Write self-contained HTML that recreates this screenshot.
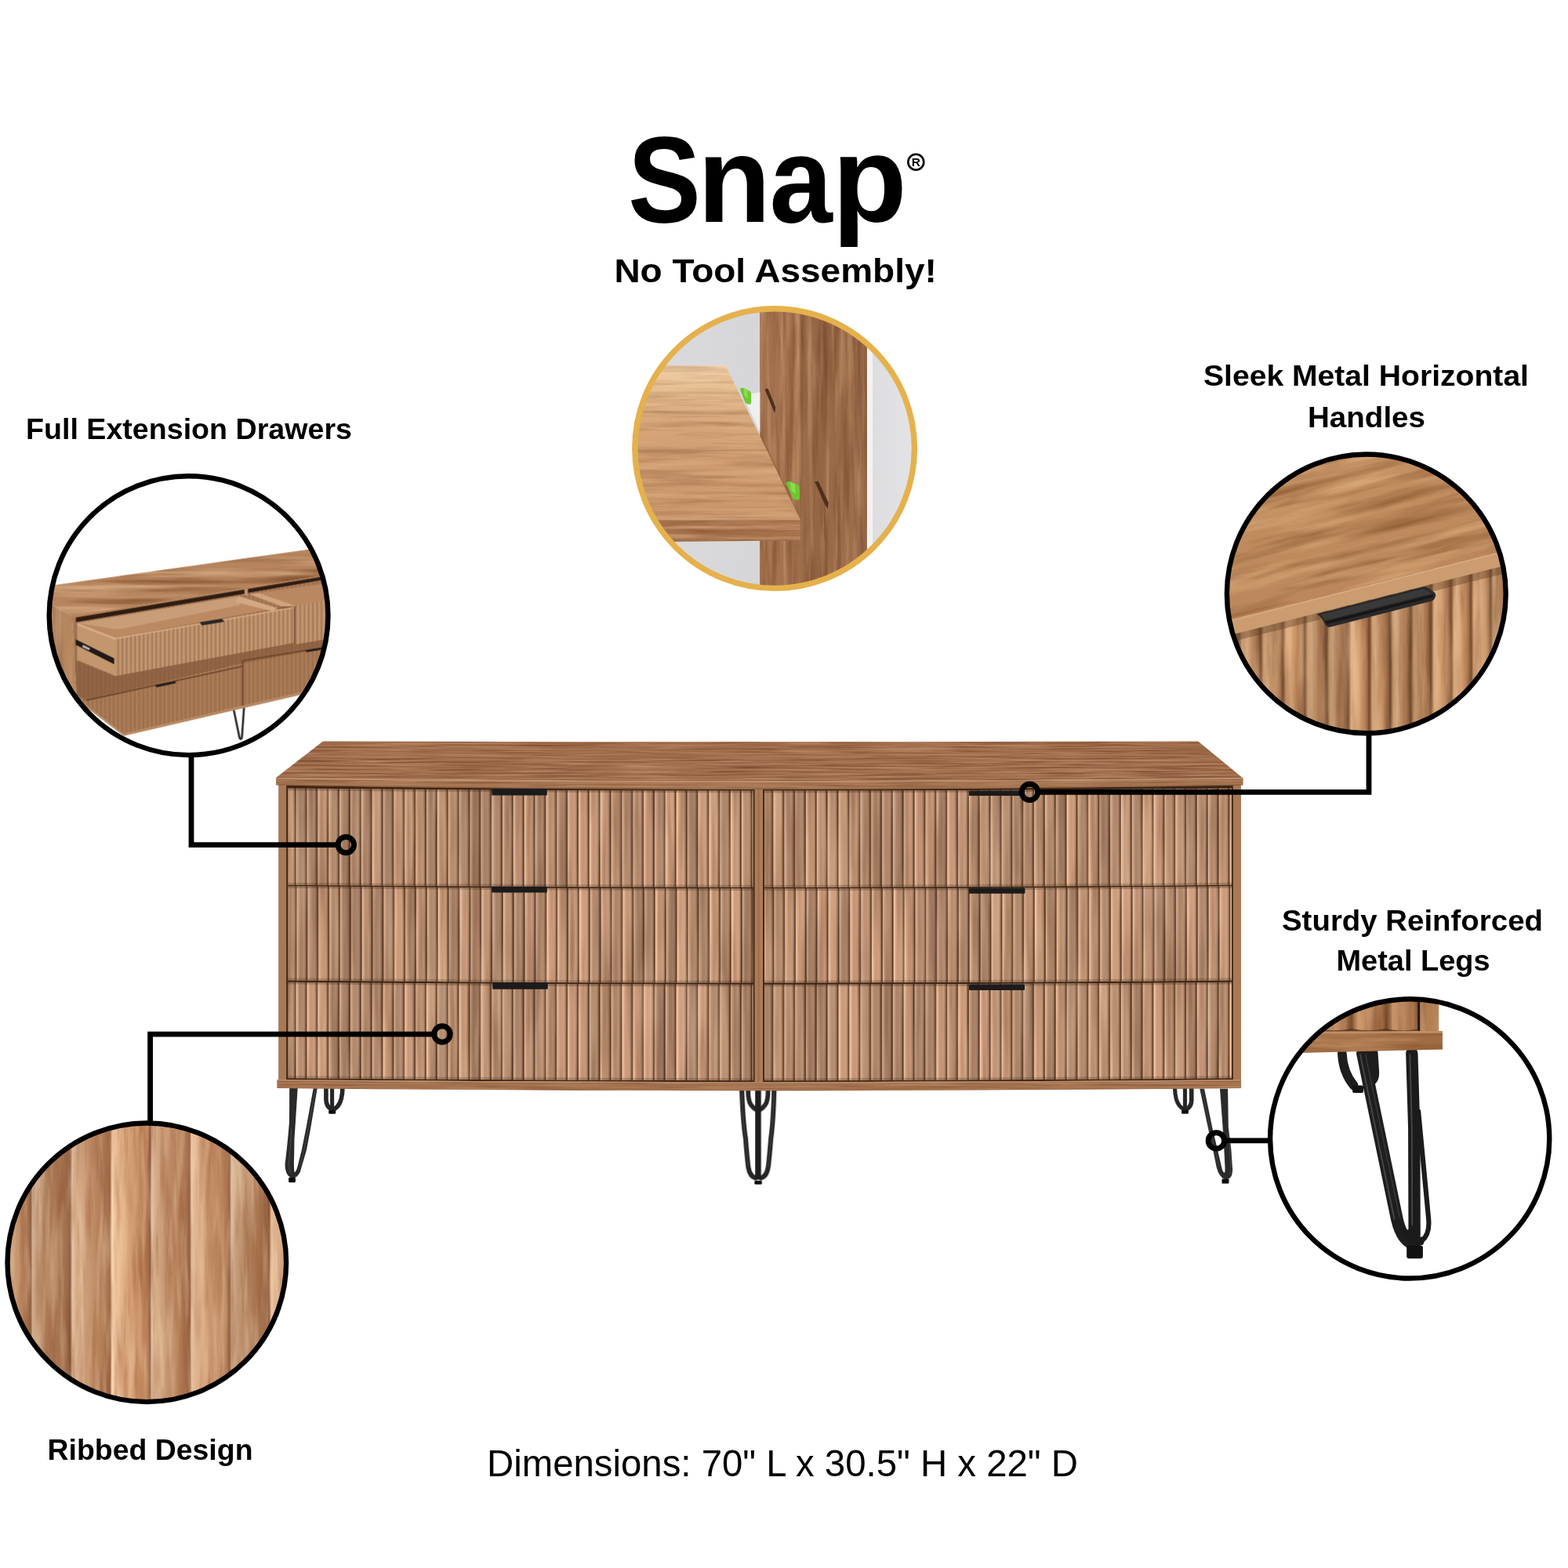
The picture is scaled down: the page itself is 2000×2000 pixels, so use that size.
<!DOCTYPE html>
<html lang="en">
<head>
<meta charset="utf-8">
<title>Snap - No Tool Assembly Dresser</title>
<style>
html,body{margin:0;padding:0;background:#ffffff}
body{width:2000px;height:2000px;overflow:hidden;position:relative}
svg{display:block;position:absolute;left:0;top:0}
text{font-family:"Liberation Sans",sans-serif;fill:#000}
.b{font-weight:bold}
</style>
</head>
<body>
<svg width="2000" height="2000" viewBox="0 0 2000 2000">
<defs>
<linearGradient id="rb0" x1="0" y1="0" x2="1" y2="0"><stop offset="0.00" stop-color="#593c28"/><stop offset="0.05" stop-color="#684731"/><stop offset="0.13" stop-color="#cea990"/><stop offset="0.26" stop-color="#b89276"/><stop offset="0.42" stop-color="#a77f64"/><stop offset="0.60" stop-color="#a98267"/><stop offset="0.74" stop-color="#ad876c"/><stop offset="0.86" stop-color="#9b745b"/><stop offset="0.94" stop-color="#7a5742"/><stop offset="1.00" stop-color="#593c28"/></linearGradient>
<linearGradient id="rb1" x1="0" y1="0" x2="1" y2="0"><stop offset="0.00" stop-color="#5c3e29"/><stop offset="0.05" stop-color="#6b4933"/><stop offset="0.13" stop-color="#d4af95"/><stop offset="0.26" stop-color="#be967a"/><stop offset="0.42" stop-color="#ad8467"/><stop offset="0.60" stop-color="#af866a"/><stop offset="0.74" stop-color="#b38b70"/><stop offset="0.86" stop-color="#a0785e"/><stop offset="0.94" stop-color="#7e5a44"/><stop offset="1.00" stop-color="#5c3e29"/></linearGradient>
<linearGradient id="rb2" x1="0" y1="0" x2="1" y2="0"><stop offset="0.00" stop-color="#5f402b"/><stop offset="0.05" stop-color="#6f4c34"/><stop offset="0.13" stop-color="#dbb499"/><stop offset="0.26" stop-color="#c49b7e"/><stop offset="0.42" stop-color="#b2886b"/><stop offset="0.60" stop-color="#b48b6e"/><stop offset="0.74" stop-color="#b89073"/><stop offset="0.86" stop-color="#a57c61"/><stop offset="0.94" stop-color="#825d46"/><stop offset="1.00" stop-color="#5f402b"/></linearGradient>
<linearGradient id="rb3" x1="0" y1="0" x2="1" y2="0"><stop offset="0.00" stop-color="#62422c"/><stop offset="0.05" stop-color="#724e36"/><stop offset="0.13" stop-color="#e2ba9e"/><stop offset="0.26" stop-color="#caa082"/><stop offset="0.42" stop-color="#b88c6e"/><stop offset="0.60" stop-color="#ba8f71"/><stop offset="0.74" stop-color="#be9477"/><stop offset="0.86" stop-color="#aa8064"/><stop offset="0.94" stop-color="#866048"/><stop offset="1.00" stop-color="#62422c"/></linearGradient>
<linearGradient id="rb4" x1="0" y1="0" x2="1" y2="0"><stop offset="0.00" stop-color="#65442d"/><stop offset="0.05" stop-color="#755038"/><stop offset="0.13" stop-color="#e9c0a3"/><stop offset="0.26" stop-color="#d0a586"/><stop offset="0.42" stop-color="#be9071"/><stop offset="0.60" stop-color="#c09374"/><stop offset="0.74" stop-color="#c4987b"/><stop offset="0.86" stop-color="#af8467"/><stop offset="0.94" stop-color="#8a634a"/><stop offset="1.00" stop-color="#65442d"/></linearGradient>
<linearGradient id="rb5" x1="0" y1="0" x2="1" y2="0"><stop offset="0.00" stop-color="#68462f"/><stop offset="0.05" stop-color="#795339"/><stop offset="0.13" stop-color="#f0c5a7"/><stop offset="0.26" stop-color="#d6aa8a"/><stop offset="0.42" stop-color="#c39475"/><stop offset="0.60" stop-color="#c59878"/><stop offset="0.74" stop-color="#c99d7e"/><stop offset="0.86" stop-color="#b4886a"/><stop offset="0.94" stop-color="#8e664c"/><stop offset="1.00" stop-color="#68462f"/></linearGradient>
<linearGradient id="rb6" x1="0" y1="0" x2="1" y2="0"><stop offset="0.00" stop-color="#6b4830"/><stop offset="0.05" stop-color="#7c553b"/><stop offset="0.13" stop-color="#f6cbac"/><stop offset="0.26" stop-color="#dcae8e"/><stop offset="0.42" stop-color="#c99978"/><stop offset="0.60" stop-color="#cb9c7b"/><stop offset="0.74" stop-color="#cfa182"/><stop offset="0.86" stop-color="#b98c6d"/><stop offset="0.94" stop-color="#92694e"/><stop offset="1.00" stop-color="#6b4830"/></linearGradient>
<clipPath id="cd00"><path d="M367.3 1005.56 Q664.0 1008.56 960.7 1008.60 L960.7 1131.70 Q664.0 1131.66 367.3 1128.66 Z"/></clipPath>
<clipPath id="cd01"><path d="M367.3 1130.26 Q664.0 1133.26 960.7 1133.30 L960.7 1253.50 Q664.0 1253.46 367.3 1250.46 Z"/></clipPath>
<clipPath id="cd02"><path d="M367.3 1252.66 Q664.0 1255.66 960.7 1255.70 L960.7 1378.20 Q664.0 1378.16 367.3 1375.16 Z"/></clipPath>
<clipPath id="cd10"><path d="M975.0 1008.60 Q1273.0 1008.57 1571.0 1005.55 L1571.0 1128.65 Q1273.0 1131.67 975.0 1131.70 Z"/></clipPath>
<clipPath id="cd11"><path d="M975.0 1133.30 Q1273.0 1133.27 1571.0 1130.25 L1571.0 1250.45 Q1273.0 1253.47 975.0 1253.50 Z"/></clipPath>
<clipPath id="cd12"><path d="M975.0 1255.70 Q1273.0 1255.67 1571.0 1252.65 L1571.0 1375.15 Q1273.0 1378.17 975.0 1378.20 Z"/></clipPath>
<linearGradient id="rh0" x1="0" y1="0" x2="1" y2="0"><stop offset="0.000" stop-color="#623e26"/><stop offset="0.050" stop-color="#785135"/><stop offset="0.160" stop-color="#c2966f"/><stop offset="0.320" stop-color="#c9a078"/><stop offset="0.550" stop-color="#b88962"/><stop offset="0.800" stop-color="#a2734f"/><stop offset="0.940" stop-color="#845a3c"/><stop offset="1.000" stop-color="#623e26"/></linearGradient>
<linearGradient id="rh1" x1="0" y1="0" x2="1" y2="0"><stop offset="0.000" stop-color="#664127"/><stop offset="0.050" stop-color="#7d5437"/><stop offset="0.160" stop-color="#ca9d74"/><stop offset="0.320" stop-color="#d2a77d"/><stop offset="0.550" stop-color="#c08f66"/><stop offset="0.800" stop-color="#a97852"/><stop offset="0.940" stop-color="#895e3f"/><stop offset="1.000" stop-color="#664127"/></linearGradient>
<linearGradient id="rh2" x1="0" y1="0" x2="1" y2="0"><stop offset="0.000" stop-color="#6a4329"/><stop offset="0.050" stop-color="#835839"/><stop offset="0.160" stop-color="#d2a378"/><stop offset="0.320" stop-color="#daad83"/><stop offset="0.550" stop-color="#c8956a"/><stop offset="0.800" stop-color="#af7c56"/><stop offset="0.940" stop-color="#8f6241"/><stop offset="1.000" stop-color="#6a4329"/></linearGradient>
<linearGradient id="rh3" x1="0" y1="0" x2="1" y2="0"><stop offset="0.000" stop-color="#6e462a"/><stop offset="0.050" stop-color="#885b3b"/><stop offset="0.160" stop-color="#daaa7d"/><stop offset="0.320" stop-color="#e3b488"/><stop offset="0.550" stop-color="#d09b6e"/><stop offset="0.800" stop-color="#b68159"/><stop offset="0.940" stop-color="#946644"/><stop offset="1.000" stop-color="#6e462a"/></linearGradient>
<linearGradient id="rr0" x1="0" y1="0" x2="1" y2="0"><stop offset="0.000" stop-color="#764b32"/><stop offset="0.020" stop-color="#8a5c40"/><stop offset="0.060" stop-color="#d7b69b"/><stop offset="0.180" stop-color="#caa484"/><stop offset="0.420" stop-color="#b88a67"/><stop offset="0.720" stop-color="#ab7956"/><stop offset="0.930" stop-color="#996746"/><stop offset="0.985" stop-color="#8a5a3d"/><stop offset="1.000" stop-color="#764b32"/></linearGradient>
<linearGradient id="rr1" x1="0" y1="0" x2="1" y2="0"><stop offset="0.000" stop-color="#7d5035"/><stop offset="0.020" stop-color="#936245"/><stop offset="0.060" stop-color="#e5c2a5"/><stop offset="0.180" stop-color="#d8ae8d"/><stop offset="0.420" stop-color="#c4936e"/><stop offset="0.720" stop-color="#b6815c"/><stop offset="0.930" stop-color="#a36e4a"/><stop offset="0.985" stop-color="#936041"/><stop offset="1.000" stop-color="#7d5035"/></linearGradient>
<linearGradient id="rr2" x1="0" y1="0" x2="1" y2="0"><stop offset="0.000" stop-color="#845438"/><stop offset="0.020" stop-color="#9a6748"/><stop offset="0.060" stop-color="#f1ccad"/><stop offset="0.180" stop-color="#e3b794"/><stop offset="0.420" stop-color="#ce9a73"/><stop offset="0.720" stop-color="#c08861"/><stop offset="0.930" stop-color="#ab734e"/><stop offset="0.985" stop-color="#9a6544"/><stop offset="1.000" stop-color="#845438"/></linearGradient>
<linearGradient id="rr3" x1="0" y1="0" x2="1" y2="0"><stop offset="0.000" stop-color="#8c593b"/><stop offset="0.020" stop-color="#a46d4c"/><stop offset="0.060" stop-color="#ffd8b7"/><stop offset="0.180" stop-color="#f0c29d"/><stop offset="0.420" stop-color="#daa47a"/><stop offset="0.720" stop-color="#cb9066"/><stop offset="0.930" stop-color="#b57a53"/><stop offset="0.985" stop-color="#a46b48"/><stop offset="1.000" stop-color="#8c593b"/></linearGradient>
<linearGradient id="rl0" x1="0" y1="0" x2="1" y2="0"><stop offset="0.000" stop-color="#6c452a"/><stop offset="0.050" stop-color="#865a3a"/><stop offset="0.200" stop-color="#be8e66"/><stop offset="0.500" stop-color="#b4815a"/><stop offset="0.850" stop-color="#a3714d"/><stop offset="0.960" stop-color="#865a3a"/><stop offset="1.000" stop-color="#6c452a"/></linearGradient>
<linearGradient id="rl1" x1="0" y1="0" x2="1" y2="0"><stop offset="0.000" stop-color="#70482c"/><stop offset="0.050" stop-color="#8c5e3c"/><stop offset="0.200" stop-color="#c6946a"/><stop offset="0.500" stop-color="#bc865e"/><stop offset="0.850" stop-color="#aa7650"/><stop offset="0.960" stop-color="#8c5e3c"/><stop offset="1.000" stop-color="#70482c"/></linearGradient>
<linearGradient id="rl2" x1="0" y1="0" x2="1" y2="0"><stop offset="0.000" stop-color="#744b2e"/><stop offset="0.050" stop-color="#92623e"/><stop offset="0.200" stop-color="#ce9a6e"/><stop offset="0.500" stop-color="#c48b62"/><stop offset="0.850" stop-color="#b17b53"/><stop offset="0.960" stop-color="#92623e"/><stop offset="1.000" stop-color="#744b2e"/></linearGradient>
<filter id="grainVc5" x="0" y="0" width="100%" height="100%" color-interpolation-filters="sRGB">
<feTurbulence type="fractalNoise" baseFrequency="0.11 0.009" numOctaves="3" seed="31" result="n"/>
<feColorMatrix in="n" type="matrix" values="0 0 0 0 0.55  0 0 0 0 0.32  0 0 0 0 0.18  2.6 0 0 0 -1.1" result="d"/>
<feColorMatrix in="n" type="matrix" values="0 0 0 0 0.97  0 0 0 0 0.86  0 0 0 0 0.72  0 2.6 0 0 -1.15" result="l"/>
<feMerge result="m"><feMergeNode in="d"/><feMergeNode in="l"/></feMerge>
<feComposite in="m" in2="SourceGraphic" operator="in"/>
</filter>
<filter id="grainVc5b" x="0" y="0" width="100%" height="100%" color-interpolation-filters="sRGB">
<feTurbulence type="fractalNoise" baseFrequency="0.022 0.004" numOctaves="2" seed="77" result="n"/>
<feColorMatrix in="n" type="matrix" values="0 0 0 0 0.60  0 0 0 0 0.36  0 0 0 0 0.20  2.4 0 0 0 -1.0" result="d"/>
<feColorMatrix in="n" type="matrix" values="0 0 0 0 0.96  0 0 0 0 0.84  0 0 0 0 0.66  0 2.4 0 0 -1.1" result="l"/>
<feMerge result="m"><feMergeNode in="d"/><feMergeNode in="l"/></feMerge>
<feComposite in="m" in2="SourceGraphic" operator="in"/>
</filter>
<filter id="soft" x="-2%" y="-2%" width="104%" height="104%" color-interpolation-filters="sRGB"><feGaussianBlur stdDeviation="0.65"/></filter>
<filter id="soft2" x="-2%" y="-2%" width="104%" height="104%" color-interpolation-filters="sRGB"><feGaussianBlur stdDeviation="0.8"/></filter>
<!-- wood grain filters -->
<filter id="grainV" x="0" y="0" width="100%" height="100%" color-interpolation-filters="sRGB">
<feTurbulence type="fractalNoise" baseFrequency="0.075 0.005" numOctaves="3" seed="7" result="n"/>
<feColorMatrix in="n" type="matrix" values="0 0 0 0 0.30  0 0 0 0 0.17  0 0 0 0 0.09  2.4 0 0 0 -1.05" result="d"/>
<feColorMatrix in="n" type="matrix" values="0 0 0 0 0.96  0 0 0 0 0.82  0 0 0 0 0.70  0 2.4 0 0 -1.2" result="l"/>
<feMerge result="m"><feMergeNode in="d"/><feMergeNode in="l"/></feMerge>
<feComposite in="m" in2="SourceGraphic" operator="in"/>
</filter>
<filter id="grainH" x="0" y="0" width="100%" height="100%" color-interpolation-filters="sRGB">
<feTurbulence type="fractalNoise" baseFrequency="0.009 0.42" numOctaves="3" seed="11" result="n"/>
<feColorMatrix in="n" type="matrix" values="0 0 0 0 0.45  0 0 0 0 0.27  0 0 0 0 0.17  1.8 0 0 0 -0.72" result="d"/>
<feColorMatrix in="n" type="matrix" values="0 0 0 0 0.76  0 0 0 0 0.58  0 0 0 0 0.45  0 1.8 0 0 -0.75" result="l"/>
<feMerge result="m"><feMergeNode in="d"/><feMergeNode in="l"/></feMerge>
<feComposite in="m" in2="SourceGraphic" operator="in"/>
</filter>
<filter id="grainVbig" x="0" y="0" width="100%" height="100%" color-interpolation-filters="sRGB">
<feTurbulence type="fractalNoise" baseFrequency="0.035 0.0028" numOctaves="4" seed="5" result="n"/>
<feColorMatrix in="n" type="matrix" values="0 0 0 0 0.42  0 0 0 0 0.24  0 0 0 0 0.12  2.4 0 0 0 -1.05" result="d"/>
<feColorMatrix in="n" type="matrix" values="0 0 0 0 0.97  0 0 0 0 0.84  0 0 0 0 0.68  0 2.4 0 0 -1.1" result="l"/>
<feMerge result="m"><feMergeNode in="d"/><feMergeNode in="l"/></feMerge>
<feComposite in="m" in2="SourceGraphic" operator="in"/>
</filter>
<filter id="grainHbig" x="0" y="0" width="100%" height="100%" color-interpolation-filters="sRGB">
<feTurbulence type="fractalNoise" baseFrequency="0.003 0.05" numOctaves="4" seed="21" result="n"/>
<feColorMatrix in="n" type="matrix" values="0 0 0 0 0.40  0 0 0 0 0.22  0 0 0 0 0.10  2.2 0 0 0 -0.95" result="d"/>
<feColorMatrix in="n" type="matrix" values="0 0 0 0 0.96  0 0 0 0 0.80  0 0 0 0 0.62  0 2.2 0 0 -1.05" result="l"/>
<feMerge result="m"><feMergeNode in="d"/><feMergeNode in="l"/></feMerge>
<feComposite in="m" in2="SourceGraphic" operator="in"/>
</filter>
<!-- rib shading -->
<linearGradient id="ribG" x1="0" y1="0" x2="1" y2="0">
<stop offset="0" stop-color="#8a5f45"/>
<stop offset="0.09" stop-color="#8f6348"/>
<stop offset="0.16" stop-color="#c79d7b"/>
<stop offset="0.36" stop-color="#bd8e6a"/>
<stop offset="0.70" stop-color="#b08260"/>
<stop offset="0.92" stop-color="#9d7052"/>
<stop offset="1" stop-color="#8a5f45"/>
</linearGradient>
<pattern id="ribs" x="362.4" y="0" width="13.8" height="400" patternUnits="userSpaceOnUse">
<rect x="0" y="0" width="13.8" height="400" fill="url(#ribG)"/>
</pattern>
<pattern id="ribsR" x="969.8" y="0" width="13.8" height="400" patternUnits="userSpaceOnUse">
<rect x="0" y="0" width="13.8" height="400" fill="url(#ribG)"/>
</pattern>
<linearGradient id="drawerShade" x1="0" y1="0" x2="0" y2="1">
<stop offset="0" stop-color="#3a2414" stop-opacity="0.30"/>
<stop offset="0.05" stop-color="#3a2414" stop-opacity="0.04"/>
<stop offset="0.93" stop-color="#3a2414" stop-opacity="0"/>
<stop offset="1" stop-color="#3a2414" stop-opacity="0.28"/>
</linearGradient>
<linearGradient id="rodG" x1="0" y1="0" x2="1" y2="0">
<stop offset="0" stop-color="#1d1d1d"/>
<stop offset="0.45" stop-color="#4a4a4a"/>
<stop offset="1" stop-color="#202020"/>
</linearGradient>
<linearGradient id="ribGs" x1="0" y1="0" x2="1" y2="0">
<stop offset="0" stop-color="#6e4830" stop-opacity="0.75"/>
<stop offset="0.22" stop-color="#e0b892" stop-opacity="0.45"/>
<stop offset="0.6" stop-color="#b88a62" stop-opacity="0.1"/>
<stop offset="1" stop-color="#6e4830" stop-opacity="0.6"/>
</linearGradient>
<pattern id="ribsC1" x="0" y="0" width="5.4" height="400" patternUnits="userSpaceOnUse">
<rect x="0" y="0" width="5.4" height="400" fill="url(#ribGs)"/>
</pattern>
<filter id="grainHc1" x="0" y="0" width="100%" height="100%" color-interpolation-filters="sRGB">
<feTurbulence type="fractalNoise" baseFrequency="0.006 0.11" numOctaves="3" seed="4" result="n"/>
<feColorMatrix in="n" type="matrix" values="0 0 0 0 0.40  0 0 0 0 0.22  0 0 0 0 0.10  2.2 0 0 0 -0.95" result="d"/>
<feColorMatrix in="n" type="matrix" values="0 0 0 0 0.96  0 0 0 0 0.82  0 0 0 0 0.66  0 2.2 0 0 -1.05" result="l"/>
<feMerge result="m"><feMergeNode in="d"/><feMergeNode in="l"/></feMerge>
<feComposite in="m" in2="SourceGraphic" operator="in"/>
</filter>
<linearGradient id="snapBg" x1="0" y1="0" x2="1" y2="0">
<stop offset="0" stop-color="#dcdcde"/>
<stop offset="0.45" stop-color="#d6d6d9"/>
<stop offset="0.8" stop-color="#dddde0"/>
<stop offset="1" stop-color="#e6e6e8"/>
</linearGradient>
<linearGradient id="postG" x1="0" y1="0" x2="1" y2="0">
<stop offset="0" stop-color="#a97753"/>
<stop offset="0.35" stop-color="#a06f4b"/>
<stop offset="0.55" stop-color="#946544"/>
<stop offset="0.8" stop-color="#a06f4c"/>
<stop offset="1" stop-color="#96664a"/>
</linearGradient>
<linearGradient id="shelfG" x1="0" y1="0" x2="0" y2="1">
<stop offset="0" stop-color="#f2d2aa"/>
<stop offset="0.12" stop-color="#e9c296"/>
<stop offset="0.34" stop-color="#d8a97d"/>
<stop offset="0.6" stop-color="#cf9d72"/>
<stop offset="1" stop-color="#c9966b"/>
</linearGradient>
<linearGradient id="shelfFrontG" x1="0" y1="0" x2="0" y2="1">
<stop offset="0" stop-color="#b07c55"/>
<stop offset="1" stop-color="#a06e49"/>
</linearGradient>
<filter id="grainVsnap" x="0" y="0" width="100%" height="100%" color-interpolation-filters="sRGB">
<feTurbulence type="fractalNoise" baseFrequency="0.024 0.0014" numOctaves="4" seed="9" result="n"/>
<feColorMatrix in="n" type="matrix" values="0 0 0 0 0.36  0 0 0 0 0.20  0 0 0 0 0.10  2.4 0 0 0 -1.0" result="d"/>
<feColorMatrix in="n" type="matrix" values="0 0 0 0 0.90  0 0 0 0 0.72  0 0 0 0 0.55  0 2.4 0 0 -1.15" result="l"/>
<feMerge result="m"><feMergeNode in="d"/><feMergeNode in="l"/></feMerge>
<feComposite in="m" in2="SourceGraphic" operator="in"/>
</filter>
<filter id="grainHsnap" x="0" y="0" width="100%" height="100%" color-interpolation-filters="sRGB">
<feTurbulence type="fractalNoise" baseFrequency="0.0016 0.03" numOctaves="4" seed="13" result="n"/>
<feColorMatrix in="n" type="matrix" values="0 0 0 0 0.45  0 0 0 0 0.26  0 0 0 0 0.12  2.4 0 0 0 -1.0" result="d"/>
<feColorMatrix in="n" type="matrix" values="0 0 0 0 0.96  0 0 0 0 0.80  0 0 0 0 0.62  0 2.4 0 0 -1.1" result="l"/>
<feMerge result="m"><feMergeNode in="d"/><feMergeNode in="l"/></feMerge>
<feComposite in="m" in2="SourceGraphic" operator="in"/>
</filter>
<linearGradient id="ribG3" x1="0" y1="0" x2="1" y2="0">
<stop offset="0" stop-color="#8a5d3f"/>
<stop offset="0.06" stop-color="#96684a"/>
<stop offset="0.2" stop-color="#cfa47d"/>
<stop offset="0.45" stop-color="#c39469"/>
<stop offset="0.75" stop-color="#b38258"/>
<stop offset="0.94" stop-color="#9b6d4a"/>
<stop offset="1" stop-color="#8a5d3f"/>
</linearGradient>
<pattern id="ribsC3" x="55" y="0" width="129" height="2000" patternUnits="userSpaceOnUse">
<rect x="0" y="0" width="129" height="2000" fill="url(#ribG3)"/>
</pattern>
<linearGradient id="topC3" x1="0" y1="0" x2="0.3" y2="1">
<stop offset="0" stop-color="#c8976a"/>
<stop offset="0.5" stop-color="#c08c5f"/>
<stop offset="1" stop-color="#b9855a"/>
</linearGradient>
<filter id="grainVc3" x="0" y="0" width="100%" height="100%" color-interpolation-filters="sRGB">
<feTurbulence type="fractalNoise" baseFrequency="0.012 0.0011" numOctaves="4" seed="17" result="n"/>
<feColorMatrix in="n" type="matrix" values="0 0 0 0 0.40  0 0 0 0 0.22  0 0 0 0 0.10  2.4 0 0 0 -1.05" result="d"/>
<feColorMatrix in="n" type="matrix" values="0 0 0 0 0.95  0 0 0 0 0.80  0 0 0 0 0.62  0 2.4 0 0 -1.15" result="l"/>
<feMerge result="m"><feMergeNode in="d"/><feMergeNode in="l"/></feMerge>
<feComposite in="m" in2="SourceGraphic" operator="in"/>
</filter>
<filter id="grainHc3" x="0" y="0" width="100%" height="100%" color-interpolation-filters="sRGB">
<feTurbulence type="fractalNoise" baseFrequency="0.0011 0.012" numOctaves="4" seed="23" result="n"/>
<feColorMatrix in="n" type="matrix" values="0 0 0 0 0.45  0 0 0 0 0.25  0 0 0 0 0.10  2.4 0 0 0 -1.05" result="d"/>
<feColorMatrix in="n" type="matrix" values="0 0 0 0 0.96  0 0 0 0 0.80  0 0 0 0 0.60  0 2.4 0 0 -1.15" result="l"/>
<feMerge result="m"><feMergeNode in="d"/><feMergeNode in="l"/></feMerge>
<feComposite in="m" in2="SourceGraphic" operator="in"/>
</filter>
<clipPath id="clipC1"><circle cx="240.6" cy="785.2" r="178"/></clipPath>
<clipPath id="clipC2"><circle cx="988.1" cy="572.1" r="178"/></clipPath>
<clipPath id="clipC3"><circle cx="1742.8" cy="757.4" r="178"/></clipPath>
<clipPath id="clipC4"><circle cx="1798.2" cy="1452.4" r="178"/></clipPath>
<clipPath id="clipC5"><circle cx="187.3" cy="1610.3" r="178"/></clipPath>
</defs>
<g id="dresser" filter="url(#soft)">
<!-- left legs -->
<g transform="translate(350 1380) scale(0.072464)">
<g fill="none" stroke="#262626" stroke-linecap="round" stroke-linejoin="round">
<path d="M910 100 L910 320 Q916 440 1005 482" stroke-width="78"/>
<path d="M1016 100 L1016 480" stroke-width="70"/>
<path d="M1200 100 Q1196 330 1120 420 Q1090 458 1040 486" stroke-width="78"/>
</g>
<rect x="955" y="496" width="126" height="66" rx="16" fill="#0d0d0d"/>
<path d="M265 100 L262 700 Q240 1000 195 1380 Q172 1500 212 1600 Q258 1692 322 1694 Q402 1690 452 1588 L565 1200 L640 800 L757 100 L688 100 L560 800 L480 1200 L410 1480 Q380 1592 352 1592 Q338 1500 347 1300 L352 1000 L372 700 L410 100 Z" fill="#2a2a2a"/>
<path d="M300 820 Q285 1100 258 1400 Q248 1520 290 1600" fill="none" stroke="#555" stroke-width="14" opacity="0.7"/>
<path d="M720 130 L600 800 L520 1200 L450 1480" fill="none" stroke="#555" stroke-width="12" opacity="0.7"/>
<rect x="250" y="1684" width="122" height="86" rx="16" fill="#0d0d0d"/>
</g>
<!-- right legs -->
<g transform="translate(1490 1380) scale(0.072464)">
<g fill="none" stroke="#262626" stroke-linecap="round" stroke-linejoin="round">
<path d="M118 120 Q124 330 200 420 Q232 458 284 486" stroke-width="70"/>
<path d="M296 120 L296 480" stroke-width="70"/>
<path d="M410 120 L410 330 Q404 440 320 482" stroke-width="78"/>
</g>
<rect x="235" y="496" width="122" height="66" rx="16" fill="#0d0d0d"/>
<path d="M555 120 L700 800 L790 1200 L850 1500 Q900 1690 1000 1712 Q1090 1720 1120 1640 Q1145 1560 1128 1480 L1110 1200 L1060 800 L1050 120 L910 120 L960 800 L985 1200 L1000 1500 Q1004 1590 990 1600 Q960 1590 940 1500 L870 1200 L775 800 L635 120 Z" fill="#2a2a2a"/>
<path d="M596 140 L738 800 L830 1200 L895 1500" fill="none" stroke="#555" stroke-width="12" opacity="0.7"/>
<path d="M1060 900 L1086 1200 L1100 1480 Q1110 1580 1080 1640" fill="none" stroke="#555" stroke-width="13" opacity="0.7"/>
<rect x="945" y="1706" width="125" height="84" rx="16" fill="#0d0d0d"/>
</g>
<!-- centre leg -->
<g transform="translate(920 1380) scale(0.072464)">
<g fill="none" stroke="#262626" stroke-linecap="round" stroke-linejoin="round">
<path d="M362 140 Q380 700 428 1000 Q450 1300 475 1500 Q500 1660 600 1690" stroke-width="84"/>
<path d="M930 140 Q915 700 872 1000 Q850 1300 825 1500 Q800 1660 700 1690" stroke-width="84"/>
<path d="M472 140 Q470 330 520 400 Q560 460 630 500" stroke-width="80"/>
<path d="M822 140 Q825 330 775 400 Q735 460 665 500" stroke-width="80"/>
<path d="M648 140 V1720" stroke-width="104" stroke="#1e1e1e" stroke-linecap="butt"/>
</g>
<g fill="none" stroke="#5a5a5a" stroke-width="12" opacity="0.65">
<path d="M362 180 Q380 700 428 1000 Q450 1300 478 1500"/>
<path d="M930 180 Q915 700 872 1000 Q850 1300 822 1500"/>
</g>
<rect x="585" y="1738" width="130" height="64" rx="16" fill="#0d0d0d"/>
</g>
<path d="M412.0 945.40 Q970.0 947.20 1528.1 945.40 L1585.6 992.7 L1585.6 991.91 Q968.8 1000.70 352.1 991.90 Z" fill="#a16e4c"/>
<path d="M412.0 945.40 Q970.0 947.20 1528.1 945.40 L1585.6 992.7 L1585.6 991.91 Q968.8 1000.70 352.1 991.90 Z" fill="#a16e4c" filter="url(#grainH)"/>
<path d="M355.4 1000.05 Q969.1 1009.95 1582.8 1000.05 L1582.8 1380 L355.4 1378 Z" fill="#a27352"/>
<rect x="355.4" y="1002" width="10" height="377" fill="#a97854"/>
<rect x="1572.6" y="1003" width="10.2" height="377" fill="#a97854"/>
<path d="M365.2 1000.21 Q664.0 1004.95 962.8 1005.00 L962.8 1380.20 Q664.0 1380.17 365.2 1377.14 Z" fill="#3d2616"/>
<path d="M973.0 1005.00 Q1272.9 1004.97 1572.8 1000.21 L1572.8 1377.14 Q1272.9 1380.18 973.0 1380.20 Z" fill="#3d2616"/>
<rect x="962.7" y="1006" width="10.4" height="375" fill="#ad7c56"/>
<rect x="966.6" y="1006" width="2" height="375" fill="#96683f" opacity="0.6"/>
<g clip-path="url(#cd00)">
<rect x="362.5" y="1004.4" width="13.91" height="129.1" fill="url(#rb5)"/>
<rect x="376.4" y="1004.4" width="13.91" height="129.1" fill="url(#rb0)"/>
<rect x="390.3" y="1004.4" width="13.91" height="129.1" fill="url(#rb0)"/>
<rect x="404.1" y="1004.4" width="13.91" height="129.1" fill="url(#rb5)"/>
<rect x="418.0" y="1004.4" width="13.91" height="129.1" fill="url(#rb2)"/>
<rect x="431.8" y="1004.4" width="13.91" height="129.1" fill="url(#rb1)"/>
<rect x="445.7" y="1004.4" width="13.91" height="129.1" fill="url(#rb1)"/>
<rect x="459.6" y="1004.4" width="13.91" height="129.1" fill="url(#rb1)"/>
<rect x="473.4" y="1004.4" width="13.91" height="129.1" fill="url(#rb5)"/>
<rect x="487.3" y="1004.4" width="13.91" height="129.1" fill="url(#rb0)"/>
<rect x="501.1" y="1004.4" width="13.91" height="129.1" fill="url(#rb5)"/>
<rect x="515.0" y="1004.4" width="13.91" height="129.1" fill="url(#rb5)"/>
<rect x="528.9" y="1004.4" width="13.91" height="129.1" fill="url(#rb4)"/>
<rect x="542.7" y="1004.4" width="13.91" height="129.1" fill="url(#rb0)"/>
<rect x="556.6" y="1004.4" width="13.91" height="129.1" fill="url(#rb4)"/>
<rect x="570.4" y="1004.4" width="13.91" height="129.1" fill="url(#rb3)"/>
<rect x="584.3" y="1004.4" width="13.91" height="129.1" fill="url(#rb0)"/>
<rect x="598.2" y="1004.4" width="13.91" height="129.1" fill="url(#rb0)"/>
<rect x="612.0" y="1004.4" width="13.91" height="129.1" fill="url(#rb0)"/>
<rect x="625.9" y="1004.4" width="13.91" height="129.1" fill="url(#rb1)"/>
<rect x="639.7" y="1004.4" width="13.91" height="129.1" fill="url(#rb1)"/>
<rect x="653.6" y="1004.4" width="13.91" height="129.1" fill="url(#rb4)"/>
<rect x="667.5" y="1004.4" width="13.91" height="129.1" fill="url(#rb4)"/>
<rect x="681.3" y="1004.4" width="13.91" height="129.1" fill="url(#rb0)"/>
<rect x="695.2" y="1004.4" width="13.91" height="129.1" fill="url(#rb4)"/>
<rect x="709.0" y="1004.4" width="13.91" height="129.1" fill="url(#rb1)"/>
<rect x="722.9" y="1004.4" width="13.91" height="129.1" fill="url(#rb5)"/>
<rect x="736.8" y="1004.4" width="13.91" height="129.1" fill="url(#rb5)"/>
<rect x="750.6" y="1004.4" width="13.91" height="129.1" fill="url(#rb5)"/>
<rect x="764.5" y="1004.4" width="13.91" height="129.1" fill="url(#rb4)"/>
<rect x="778.3" y="1004.4" width="13.91" height="129.1" fill="url(#rb3)"/>
<rect x="792.2" y="1004.4" width="13.91" height="129.1" fill="url(#rb1)"/>
<rect x="806.1" y="1004.4" width="13.91" height="129.1" fill="url(#rb3)"/>
<rect x="819.9" y="1004.4" width="13.91" height="129.1" fill="url(#rb4)"/>
<rect x="833.8" y="1004.4" width="13.91" height="129.1" fill="url(#rb2)"/>
<rect x="847.6" y="1004.4" width="13.91" height="129.1" fill="url(#rb6)"/>
<rect x="861.5" y="1004.4" width="13.91" height="129.1" fill="url(#rb6)"/>
<rect x="875.4" y="1004.4" width="13.91" height="129.1" fill="url(#rb0)"/>
<rect x="889.2" y="1004.4" width="13.91" height="129.1" fill="url(#rb6)"/>
<rect x="903.1" y="1004.4" width="13.91" height="129.1" fill="url(#rb6)"/>
<rect x="916.9" y="1004.4" width="13.91" height="129.1" fill="url(#rb1)"/>
<rect x="930.8" y="1004.4" width="13.91" height="129.1" fill="url(#rb5)"/>
<rect x="944.7" y="1004.4" width="13.91" height="129.1" fill="url(#rb3)"/>
<rect x="958.5" y="1004.4" width="13.91" height="129.1" fill="url(#rb2)"/>
<rect x="367.3" y="1004.4" width="593.4" height="129.1" fill="#b08260" filter="url(#grainV)" opacity="0.3"/>
<path d="M367.3 1005.56 Q664.0 1008.56 960.7 1008.60 L960.7 1011.20 Q664.0 1011.16 367.3 1008.16 Z" fill="#3a2414" opacity="0.28"/>
<path d="M367.3 1125.66 Q664.0 1128.66 960.7 1128.70 L960.7 1131.70 Q664.0 1131.66 367.3 1128.66 Z" fill="#3a2414" opacity="0.22"/>
</g>
<g clip-path="url(#cd01)">
<rect x="363.4" y="1129.1" width="13.91" height="126.2" fill="url(#rb2)"/>
<rect x="377.3" y="1129.1" width="13.91" height="126.2" fill="url(#rb1)"/>
<rect x="391.2" y="1129.1" width="13.91" height="126.2" fill="url(#rb1)"/>
<rect x="405.0" y="1129.1" width="13.91" height="126.2" fill="url(#rb6)"/>
<rect x="418.9" y="1129.1" width="13.91" height="126.2" fill="url(#rb2)"/>
<rect x="432.7" y="1129.1" width="13.91" height="126.2" fill="url(#rb0)"/>
<rect x="446.6" y="1129.1" width="13.91" height="126.2" fill="url(#rb0)"/>
<rect x="460.5" y="1129.1" width="13.91" height="126.2" fill="url(#rb3)"/>
<rect x="474.3" y="1129.1" width="13.91" height="126.2" fill="url(#rb0)"/>
<rect x="488.2" y="1129.1" width="13.91" height="126.2" fill="url(#rb2)"/>
<rect x="502.0" y="1129.1" width="13.91" height="126.2" fill="url(#rb6)"/>
<rect x="515.9" y="1129.1" width="13.91" height="126.2" fill="url(#rb2)"/>
<rect x="529.8" y="1129.1" width="13.91" height="126.2" fill="url(#rb4)"/>
<rect x="543.6" y="1129.1" width="13.91" height="126.2" fill="url(#rb2)"/>
<rect x="557.5" y="1129.1" width="13.91" height="126.2" fill="url(#rb6)"/>
<rect x="571.3" y="1129.1" width="13.91" height="126.2" fill="url(#rb0)"/>
<rect x="585.2" y="1129.1" width="13.91" height="126.2" fill="url(#rb5)"/>
<rect x="599.1" y="1129.1" width="13.91" height="126.2" fill="url(#rb3)"/>
<rect x="612.9" y="1129.1" width="13.91" height="126.2" fill="url(#rb4)"/>
<rect x="626.8" y="1129.1" width="13.91" height="126.2" fill="url(#rb0)"/>
<rect x="640.6" y="1129.1" width="13.91" height="126.2" fill="url(#rb3)"/>
<rect x="654.5" y="1129.1" width="13.91" height="126.2" fill="url(#rb0)"/>
<rect x="668.4" y="1129.1" width="13.91" height="126.2" fill="url(#rb4)"/>
<rect x="682.2" y="1129.1" width="13.91" height="126.2" fill="url(#rb2)"/>
<rect x="696.1" y="1129.1" width="13.91" height="126.2" fill="url(#rb6)"/>
<rect x="709.9" y="1129.1" width="13.91" height="126.2" fill="url(#rb5)"/>
<rect x="723.8" y="1129.1" width="13.91" height="126.2" fill="url(#rb4)"/>
<rect x="737.7" y="1129.1" width="13.91" height="126.2" fill="url(#rb6)"/>
<rect x="751.5" y="1129.1" width="13.91" height="126.2" fill="url(#rb2)"/>
<rect x="765.4" y="1129.1" width="13.91" height="126.2" fill="url(#rb4)"/>
<rect x="779.2" y="1129.1" width="13.91" height="126.2" fill="url(#rb1)"/>
<rect x="793.1" y="1129.1" width="13.91" height="126.2" fill="url(#rb5)"/>
<rect x="807.0" y="1129.1" width="13.91" height="126.2" fill="url(#rb0)"/>
<rect x="820.8" y="1129.1" width="13.91" height="126.2" fill="url(#rb0)"/>
<rect x="834.7" y="1129.1" width="13.91" height="126.2" fill="url(#rb5)"/>
<rect x="848.5" y="1129.1" width="13.91" height="126.2" fill="url(#rb1)"/>
<rect x="862.4" y="1129.1" width="13.91" height="126.2" fill="url(#rb6)"/>
<rect x="876.3" y="1129.1" width="13.91" height="126.2" fill="url(#rb2)"/>
<rect x="890.1" y="1129.1" width="13.91" height="126.2" fill="url(#rb0)"/>
<rect x="904.0" y="1129.1" width="13.91" height="126.2" fill="url(#rb6)"/>
<rect x="917.8" y="1129.1" width="13.91" height="126.2" fill="url(#rb1)"/>
<rect x="931.7" y="1129.1" width="13.91" height="126.2" fill="url(#rb6)"/>
<rect x="945.6" y="1129.1" width="13.91" height="126.2" fill="url(#rb0)"/>
<rect x="959.4" y="1129.1" width="13.91" height="126.2" fill="url(#rb3)"/>
<rect x="367.3" y="1129.1" width="593.4" height="126.2" fill="#b08260" filter="url(#grainV)" opacity="0.3"/>
<path d="M367.3 1130.26 Q664.0 1133.26 960.7 1133.30 L960.7 1135.90 Q664.0 1135.86 367.3 1132.86 Z" fill="#3a2414" opacity="0.28"/>
<path d="M367.3 1247.46 Q664.0 1250.46 960.7 1250.50 L960.7 1253.50 Q664.0 1253.46 367.3 1250.46 Z" fill="#3a2414" opacity="0.22"/>
</g>
<g clip-path="url(#cd02)">
<rect x="362.5" y="1251.5" width="13.91" height="128.5" fill="url(#rb2)"/>
<rect x="376.4" y="1251.5" width="13.91" height="128.5" fill="url(#rb3)"/>
<rect x="390.3" y="1251.5" width="13.91" height="128.5" fill="url(#rb5)"/>
<rect x="404.1" y="1251.5" width="13.91" height="128.5" fill="url(#rb6)"/>
<rect x="418.0" y="1251.5" width="13.91" height="128.5" fill="url(#rb2)"/>
<rect x="431.8" y="1251.5" width="13.91" height="128.5" fill="url(#rb1)"/>
<rect x="445.7" y="1251.5" width="13.91" height="128.5" fill="url(#rb2)"/>
<rect x="459.6" y="1251.5" width="13.91" height="128.5" fill="url(#rb2)"/>
<rect x="473.4" y="1251.5" width="13.91" height="128.5" fill="url(#rb1)"/>
<rect x="487.3" y="1251.5" width="13.91" height="128.5" fill="url(#rb5)"/>
<rect x="501.1" y="1251.5" width="13.91" height="128.5" fill="url(#rb2)"/>
<rect x="515.0" y="1251.5" width="13.91" height="128.5" fill="url(#rb5)"/>
<rect x="528.9" y="1251.5" width="13.91" height="128.5" fill="url(#rb5)"/>
<rect x="542.7" y="1251.5" width="13.91" height="128.5" fill="url(#rb5)"/>
<rect x="556.6" y="1251.5" width="13.91" height="128.5" fill="url(#rb0)"/>
<rect x="570.4" y="1251.5" width="13.91" height="128.5" fill="url(#rb4)"/>
<rect x="584.3" y="1251.5" width="13.91" height="128.5" fill="url(#rb5)"/>
<rect x="598.2" y="1251.5" width="13.91" height="128.5" fill="url(#rb1)"/>
<rect x="612.0" y="1251.5" width="13.91" height="128.5" fill="url(#rb4)"/>
<rect x="625.9" y="1251.5" width="13.91" height="128.5" fill="url(#rb5)"/>
<rect x="639.7" y="1251.5" width="13.91" height="128.5" fill="url(#rb1)"/>
<rect x="653.6" y="1251.5" width="13.91" height="128.5" fill="url(#rb1)"/>
<rect x="667.5" y="1251.5" width="13.91" height="128.5" fill="url(#rb3)"/>
<rect x="681.3" y="1251.5" width="13.91" height="128.5" fill="url(#rb3)"/>
<rect x="695.2" y="1251.5" width="13.91" height="128.5" fill="url(#rb2)"/>
<rect x="709.0" y="1251.5" width="13.91" height="128.5" fill="url(#rb5)"/>
<rect x="722.9" y="1251.5" width="13.91" height="128.5" fill="url(#rb5)"/>
<rect x="736.8" y="1251.5" width="13.91" height="128.5" fill="url(#rb4)"/>
<rect x="750.6" y="1251.5" width="13.91" height="128.5" fill="url(#rb1)"/>
<rect x="764.5" y="1251.5" width="13.91" height="128.5" fill="url(#rb5)"/>
<rect x="778.3" y="1251.5" width="13.91" height="128.5" fill="url(#rb2)"/>
<rect x="792.2" y="1251.5" width="13.91" height="128.5" fill="url(#rb6)"/>
<rect x="806.1" y="1251.5" width="13.91" height="128.5" fill="url(#rb6)"/>
<rect x="819.9" y="1251.5" width="13.91" height="128.5" fill="url(#rb6)"/>
<rect x="833.8" y="1251.5" width="13.91" height="128.5" fill="url(#rb0)"/>
<rect x="847.6" y="1251.5" width="13.91" height="128.5" fill="url(#rb1)"/>
<rect x="861.5" y="1251.5" width="13.91" height="128.5" fill="url(#rb6)"/>
<rect x="875.4" y="1251.5" width="13.91" height="128.5" fill="url(#rb0)"/>
<rect x="889.2" y="1251.5" width="13.91" height="128.5" fill="url(#rb6)"/>
<rect x="903.1" y="1251.5" width="13.91" height="128.5" fill="url(#rb2)"/>
<rect x="916.9" y="1251.5" width="13.91" height="128.5" fill="url(#rb3)"/>
<rect x="930.8" y="1251.5" width="13.91" height="128.5" fill="url(#rb2)"/>
<rect x="944.7" y="1251.5" width="13.91" height="128.5" fill="url(#rb0)"/>
<rect x="958.5" y="1251.5" width="13.91" height="128.5" fill="url(#rb1)"/>
<rect x="367.3" y="1251.5" width="593.4" height="128.5" fill="#b08260" filter="url(#grainV)" opacity="0.3"/>
<path d="M367.3 1252.66 Q664.0 1255.66 960.7 1255.70 L960.7 1258.30 Q664.0 1258.26 367.3 1255.26 Z" fill="#3a2414" opacity="0.28"/>
<path d="M367.3 1372.16 Q664.0 1375.16 960.7 1375.20 L960.7 1378.20 Q664.0 1378.16 367.3 1375.16 Z" fill="#3a2414" opacity="0.22"/>
</g>
<g clip-path="url(#cd10)">
<rect x="971.3" y="1004.4" width="13.91" height="129.1" fill="url(#rb4)"/>
<rect x="985.2" y="1004.4" width="13.91" height="129.1" fill="url(#rb5)"/>
<rect x="999.1" y="1004.4" width="13.91" height="129.1" fill="url(#rb2)"/>
<rect x="1012.9" y="1004.4" width="13.91" height="129.1" fill="url(#rb1)"/>
<rect x="1026.8" y="1004.4" width="13.91" height="129.1" fill="url(#rb5)"/>
<rect x="1040.6" y="1004.4" width="13.91" height="129.1" fill="url(#rb3)"/>
<rect x="1054.5" y="1004.4" width="13.91" height="129.1" fill="url(#rb3)"/>
<rect x="1068.4" y="1004.4" width="13.91" height="129.1" fill="url(#rb5)"/>
<rect x="1082.2" y="1004.4" width="13.91" height="129.1" fill="url(#rb3)"/>
<rect x="1096.1" y="1004.4" width="13.91" height="129.1" fill="url(#rb1)"/>
<rect x="1109.9" y="1004.4" width="13.91" height="129.1" fill="url(#rb2)"/>
<rect x="1123.8" y="1004.4" width="13.91" height="129.1" fill="url(#rb1)"/>
<rect x="1137.7" y="1004.4" width="13.91" height="129.1" fill="url(#rb1)"/>
<rect x="1151.5" y="1004.4" width="13.91" height="129.1" fill="url(#rb5)"/>
<rect x="1165.4" y="1004.4" width="13.91" height="129.1" fill="url(#rb4)"/>
<rect x="1179.2" y="1004.4" width="13.91" height="129.1" fill="url(#rb4)"/>
<rect x="1193.1" y="1004.4" width="13.91" height="129.1" fill="url(#rb2)"/>
<rect x="1207.0" y="1004.4" width="13.91" height="129.1" fill="url(#rb5)"/>
<rect x="1220.8" y="1004.4" width="13.91" height="129.1" fill="url(#rb4)"/>
<rect x="1234.7" y="1004.4" width="13.91" height="129.1" fill="url(#rb3)"/>
<rect x="1248.5" y="1004.4" width="13.91" height="129.1" fill="url(#rb4)"/>
<rect x="1262.4" y="1004.4" width="13.91" height="129.1" fill="url(#rb3)"/>
<rect x="1276.3" y="1004.4" width="13.91" height="129.1" fill="url(#rb2)"/>
<rect x="1290.1" y="1004.4" width="13.91" height="129.1" fill="url(#rb1)"/>
<rect x="1304.0" y="1004.4" width="13.91" height="129.1" fill="url(#rb1)"/>
<rect x="1317.8" y="1004.4" width="13.91" height="129.1" fill="url(#rb4)"/>
<rect x="1331.7" y="1004.4" width="13.91" height="129.1" fill="url(#rb3)"/>
<rect x="1345.6" y="1004.4" width="13.91" height="129.1" fill="url(#rb0)"/>
<rect x="1359.4" y="1004.4" width="13.91" height="129.1" fill="url(#rb6)"/>
<rect x="1373.3" y="1004.4" width="13.91" height="129.1" fill="url(#rb0)"/>
<rect x="1387.1" y="1004.4" width="13.91" height="129.1" fill="url(#rb6)"/>
<rect x="1401.0" y="1004.4" width="13.91" height="129.1" fill="url(#rb0)"/>
<rect x="1414.9" y="1004.4" width="13.91" height="129.1" fill="url(#rb1)"/>
<rect x="1428.7" y="1004.4" width="13.91" height="129.1" fill="url(#rb5)"/>
<rect x="1442.6" y="1004.4" width="13.91" height="129.1" fill="url(#rb1)"/>
<rect x="1456.4" y="1004.4" width="13.91" height="129.1" fill="url(#rb6)"/>
<rect x="1470.3" y="1004.4" width="13.91" height="129.1" fill="url(#rb5)"/>
<rect x="1484.2" y="1004.4" width="13.91" height="129.1" fill="url(#rb3)"/>
<rect x="1498.0" y="1004.4" width="13.91" height="129.1" fill="url(#rb4)"/>
<rect x="1511.9" y="1004.4" width="13.91" height="129.1" fill="url(#rb0)"/>
<rect x="1525.7" y="1004.4" width="13.91" height="129.1" fill="url(#rb3)"/>
<rect x="1539.6" y="1004.4" width="13.91" height="129.1" fill="url(#rb3)"/>
<rect x="1553.5" y="1004.4" width="13.91" height="129.1" fill="url(#rb4)"/>
<rect x="1567.3" y="1004.4" width="13.91" height="129.1" fill="url(#rb3)"/>
<rect x="975.0" y="1004.4" width="596.0" height="129.1" fill="#b08260" filter="url(#grainV)" opacity="0.3"/>
<path d="M975.0 1008.60 Q1273.0 1008.57 1571.0 1005.55 L1571.0 1008.15 Q1273.0 1011.17 975.0 1011.20 Z" fill="#3a2414" opacity="0.28"/>
<path d="M975.0 1128.70 Q1273.0 1128.67 1571.0 1125.65 L1571.0 1128.65 Q1273.0 1131.67 975.0 1131.70 Z" fill="#3a2414" opacity="0.22"/>
</g>
<g clip-path="url(#cd11)">
<rect x="972.2" y="1129.1" width="13.91" height="126.2" fill="url(#rb4)"/>
<rect x="986.1" y="1129.1" width="13.91" height="126.2" fill="url(#rb2)"/>
<rect x="1000.0" y="1129.1" width="13.91" height="126.2" fill="url(#rb4)"/>
<rect x="1013.8" y="1129.1" width="13.91" height="126.2" fill="url(#rb6)"/>
<rect x="1027.7" y="1129.1" width="13.91" height="126.2" fill="url(#rb0)"/>
<rect x="1041.5" y="1129.1" width="13.91" height="126.2" fill="url(#rb5)"/>
<rect x="1055.4" y="1129.1" width="13.91" height="126.2" fill="url(#rb5)"/>
<rect x="1069.3" y="1129.1" width="13.91" height="126.2" fill="url(#rb0)"/>
<rect x="1083.1" y="1129.1" width="13.91" height="126.2" fill="url(#rb5)"/>
<rect x="1097.0" y="1129.1" width="13.91" height="126.2" fill="url(#rb4)"/>
<rect x="1110.8" y="1129.1" width="13.91" height="126.2" fill="url(#rb6)"/>
<rect x="1124.7" y="1129.1" width="13.91" height="126.2" fill="url(#rb2)"/>
<rect x="1138.6" y="1129.1" width="13.91" height="126.2" fill="url(#rb6)"/>
<rect x="1152.4" y="1129.1" width="13.91" height="126.2" fill="url(#rb5)"/>
<rect x="1166.3" y="1129.1" width="13.91" height="126.2" fill="url(#rb2)"/>
<rect x="1180.1" y="1129.1" width="13.91" height="126.2" fill="url(#rb0)"/>
<rect x="1194.0" y="1129.1" width="13.91" height="126.2" fill="url(#rb2)"/>
<rect x="1207.9" y="1129.1" width="13.91" height="126.2" fill="url(#rb3)"/>
<rect x="1221.7" y="1129.1" width="13.91" height="126.2" fill="url(#rb1)"/>
<rect x="1235.6" y="1129.1" width="13.91" height="126.2" fill="url(#rb3)"/>
<rect x="1249.4" y="1129.1" width="13.91" height="126.2" fill="url(#rb0)"/>
<rect x="1263.3" y="1129.1" width="13.91" height="126.2" fill="url(#rb5)"/>
<rect x="1277.2" y="1129.1" width="13.91" height="126.2" fill="url(#rb5)"/>
<rect x="1291.0" y="1129.1" width="13.91" height="126.2" fill="url(#rb2)"/>
<rect x="1304.9" y="1129.1" width="13.91" height="126.2" fill="url(#rb4)"/>
<rect x="1318.7" y="1129.1" width="13.91" height="126.2" fill="url(#rb6)"/>
<rect x="1332.6" y="1129.1" width="13.91" height="126.2" fill="url(#rb1)"/>
<rect x="1346.5" y="1129.1" width="13.91" height="126.2" fill="url(#rb4)"/>
<rect x="1360.3" y="1129.1" width="13.91" height="126.2" fill="url(#rb0)"/>
<rect x="1374.2" y="1129.1" width="13.91" height="126.2" fill="url(#rb6)"/>
<rect x="1388.0" y="1129.1" width="13.91" height="126.2" fill="url(#rb5)"/>
<rect x="1401.9" y="1129.1" width="13.91" height="126.2" fill="url(#rb2)"/>
<rect x="1415.8" y="1129.1" width="13.91" height="126.2" fill="url(#rb6)"/>
<rect x="1429.6" y="1129.1" width="13.91" height="126.2" fill="url(#rb5)"/>
<rect x="1443.5" y="1129.1" width="13.91" height="126.2" fill="url(#rb4)"/>
<rect x="1457.3" y="1129.1" width="13.91" height="126.2" fill="url(#rb4)"/>
<rect x="1471.2" y="1129.1" width="13.91" height="126.2" fill="url(#rb1)"/>
<rect x="1485.1" y="1129.1" width="13.91" height="126.2" fill="url(#rb1)"/>
<rect x="1498.9" y="1129.1" width="13.91" height="126.2" fill="url(#rb2)"/>
<rect x="1512.8" y="1129.1" width="13.91" height="126.2" fill="url(#rb6)"/>
<rect x="1526.6" y="1129.1" width="13.91" height="126.2" fill="url(#rb1)"/>
<rect x="1540.5" y="1129.1" width="13.91" height="126.2" fill="url(#rb4)"/>
<rect x="1554.4" y="1129.1" width="13.91" height="126.2" fill="url(#rb6)"/>
<rect x="1568.2" y="1129.1" width="13.91" height="126.2" fill="url(#rb4)"/>
<rect x="975.0" y="1129.1" width="596.0" height="126.2" fill="#b08260" filter="url(#grainV)" opacity="0.3"/>
<path d="M975.0 1133.30 Q1273.0 1133.27 1571.0 1130.25 L1571.0 1132.85 Q1273.0 1135.87 975.0 1135.90 Z" fill="#3a2414" opacity="0.28"/>
<path d="M975.0 1250.50 Q1273.0 1250.47 1571.0 1247.45 L1571.0 1250.45 Q1273.0 1253.47 975.0 1253.50 Z" fill="#3a2414" opacity="0.22"/>
</g>
<g clip-path="url(#cd12)">
<rect x="971.3" y="1251.5" width="13.91" height="128.5" fill="url(#rb0)"/>
<rect x="985.2" y="1251.5" width="13.91" height="128.5" fill="url(#rb4)"/>
<rect x="999.1" y="1251.5" width="13.91" height="128.5" fill="url(#rb2)"/>
<rect x="1012.9" y="1251.5" width="13.91" height="128.5" fill="url(#rb3)"/>
<rect x="1026.8" y="1251.5" width="13.91" height="128.5" fill="url(#rb0)"/>
<rect x="1040.6" y="1251.5" width="13.91" height="128.5" fill="url(#rb0)"/>
<rect x="1054.5" y="1251.5" width="13.91" height="128.5" fill="url(#rb2)"/>
<rect x="1068.4" y="1251.5" width="13.91" height="128.5" fill="url(#rb6)"/>
<rect x="1082.2" y="1251.5" width="13.91" height="128.5" fill="url(#rb6)"/>
<rect x="1096.1" y="1251.5" width="13.91" height="128.5" fill="url(#rb2)"/>
<rect x="1109.9" y="1251.5" width="13.91" height="128.5" fill="url(#rb1)"/>
<rect x="1123.8" y="1251.5" width="13.91" height="128.5" fill="url(#rb0)"/>
<rect x="1137.7" y="1251.5" width="13.91" height="128.5" fill="url(#rb1)"/>
<rect x="1151.5" y="1251.5" width="13.91" height="128.5" fill="url(#rb4)"/>
<rect x="1165.4" y="1251.5" width="13.91" height="128.5" fill="url(#rb0)"/>
<rect x="1179.2" y="1251.5" width="13.91" height="128.5" fill="url(#rb0)"/>
<rect x="1193.1" y="1251.5" width="13.91" height="128.5" fill="url(#rb5)"/>
<rect x="1207.0" y="1251.5" width="13.91" height="128.5" fill="url(#rb3)"/>
<rect x="1220.8" y="1251.5" width="13.91" height="128.5" fill="url(#rb6)"/>
<rect x="1234.7" y="1251.5" width="13.91" height="128.5" fill="url(#rb0)"/>
<rect x="1248.5" y="1251.5" width="13.91" height="128.5" fill="url(#rb6)"/>
<rect x="1262.4" y="1251.5" width="13.91" height="128.5" fill="url(#rb4)"/>
<rect x="1276.3" y="1251.5" width="13.91" height="128.5" fill="url(#rb6)"/>
<rect x="1290.1" y="1251.5" width="13.91" height="128.5" fill="url(#rb1)"/>
<rect x="1304.0" y="1251.5" width="13.91" height="128.5" fill="url(#rb1)"/>
<rect x="1317.8" y="1251.5" width="13.91" height="128.5" fill="url(#rb5)"/>
<rect x="1331.7" y="1251.5" width="13.91" height="128.5" fill="url(#rb3)"/>
<rect x="1345.6" y="1251.5" width="13.91" height="128.5" fill="url(#rb4)"/>
<rect x="1359.4" y="1251.5" width="13.91" height="128.5" fill="url(#rb1)"/>
<rect x="1373.3" y="1251.5" width="13.91" height="128.5" fill="url(#rb2)"/>
<rect x="1387.1" y="1251.5" width="13.91" height="128.5" fill="url(#rb4)"/>
<rect x="1401.0" y="1251.5" width="13.91" height="128.5" fill="url(#rb6)"/>
<rect x="1414.9" y="1251.5" width="13.91" height="128.5" fill="url(#rb4)"/>
<rect x="1428.7" y="1251.5" width="13.91" height="128.5" fill="url(#rb3)"/>
<rect x="1442.6" y="1251.5" width="13.91" height="128.5" fill="url(#rb1)"/>
<rect x="1456.4" y="1251.5" width="13.91" height="128.5" fill="url(#rb4)"/>
<rect x="1470.3" y="1251.5" width="13.91" height="128.5" fill="url(#rb6)"/>
<rect x="1484.2" y="1251.5" width="13.91" height="128.5" fill="url(#rb5)"/>
<rect x="1498.0" y="1251.5" width="13.91" height="128.5" fill="url(#rb5)"/>
<rect x="1511.9" y="1251.5" width="13.91" height="128.5" fill="url(#rb1)"/>
<rect x="1525.7" y="1251.5" width="13.91" height="128.5" fill="url(#rb5)"/>
<rect x="1539.6" y="1251.5" width="13.91" height="128.5" fill="url(#rb2)"/>
<rect x="1553.5" y="1251.5" width="13.91" height="128.5" fill="url(#rb3)"/>
<rect x="1567.3" y="1251.5" width="13.91" height="128.5" fill="url(#rb5)"/>
<rect x="975.0" y="1251.5" width="596.0" height="128.5" fill="#b08260" filter="url(#grainV)" opacity="0.3"/>
<path d="M975.0 1255.70 Q1273.0 1255.67 1571.0 1252.65 L1571.0 1255.25 Q1273.0 1258.27 975.0 1258.30 Z" fill="#3a2414" opacity="0.28"/>
<path d="M975.0 1375.20 Q1273.0 1375.17 1571.0 1372.15 L1571.0 1375.15 Q1273.0 1378.17 975.0 1378.20 Z" fill="#3a2414" opacity="0.22"/>
</g>
<path d="M352.1 991.90 Q968.8 1000.70 1585.6 991.91 L1585.6 1001.41 Q968.8 1012.40 352.1 1001.40 Z" fill="#a87652"/>
<path d="M352.1 991.90 Q968.8 1000.70 1585.6 991.91 L1585.6 1001.41 Q968.8 1012.40 352.1 1001.40 Z" fill="#a87652" filter="url(#grainH)" opacity="0.7"/>
<path d="M352.1 991.90 Q968.8 1000.70 1585.6 991.91 L1585.6 993.31 Q968.8 1002.10 352.1 993.30 Z" fill="#c9a07e" opacity="0.7"/>
<path d="M355.4 1000.26 Q969.1 1011.14 1582.8 1000.26 L1582.8 1001.66 Q969.1 1012.54 355.4 1001.66 Z" fill="#7c5336" opacity="0.55"/>
<path d="M353.4 1377.01 Q968.2 1382.98 1583.1 1377.03 L1583.1 1388.03 Q968.2 1394.38 353.4 1388.01 Z" fill="#a5734f"/>
<path d="M353.4 1377.01 Q968.2 1382.98 1583.1 1377.03 L1583.1 1388.03 Q968.2 1394.38 353.4 1388.01 Z" fill="#a5734f" filter="url(#grainH)" opacity="0.7"/>
<path d="M353.4 1377.01 Q968.2 1382.98 1583.1 1377.03 L1583.1 1378.63 Q968.2 1384.58 353.4 1378.61 Z" fill="#c9a07e" opacity="0.6"/>
<g fill="#1c1b1b">
<rect x="627.2" y="1006.0" width="70.6" height="8.4" rx="1"/>
<rect x="627.2" y="1130.8" width="70.6" height="7.6" rx="1"/>
<rect x="628.2" y="1253.2" width="70.6" height="8.6" rx="1"/>
<rect x="1236.0" y="1008.6" width="71.0" height="6.4" rx="1"/>
<rect x="1236.0" y="1132.4" width="71.5" height="7.4" rx="1"/>
<rect x="1236.0" y="1255.4" width="71.0" height="7.6" rx="1"/>
</g>
</g>
<g id="circle-drawers" clip-path="url(#clipC1)">
<rect x="60" y="604" width="364" height="364" fill="#fff"/>
<!-- leg -->
<g fill="none" stroke="#262626" stroke-width="2.6" stroke-linecap="round">
<path d="M297 900 L305.5 941 Q307 944.5 308.5 941 L311.5 898"/>
</g>
<!-- cabinet front (closed rows, in shade) -->
<path d="M91.4 785.6 L430 731.1 L430 872.5 L157.4 936 L97.8 890 Z" fill="#a47450"/>
<path d="M91.4 785.6 L430 731.1 L430 872.5 L157.4 936 L97.8 890 Z" fill="url(#ribsC1)" opacity="0.55"/>
<!-- row 2 deep shadow under open drawer -->
<path d="M96 842 L147 862 L375 820 L430 812 L430 824 L309 846 L110 893 L97 886 Z" fill="#7d5337" opacity="0.55"/>
<!-- row3 top line + centre line + bottom board -->
<path d="M109.9 893.3 L308.8 850 M310.5 842.5 L430 823" stroke="#6a442b" stroke-width="1.6" fill="none"/>
<path d="M309.6 842 V900" stroke="#6e4830" stroke-width="1.8"/>
<path d="M97.8 889.5 L157.4 935.6 L430 872.2 L430 875.4 L157.8 938.8 L96.5 892 Z" fill="#b88a62"/>
<!-- left side panel -->
<path d="M56 766 L91.4 785.6 L97.8 890.5 L56 860 Z" fill="#b6865e"/>
<path d="M56 766 L91.4 785.6 L97.8 890.5 L56 860 Z" fill="#b6865e" filter="url(#grainV)" opacity="0.35"/>
<!-- top face -->
<path d="M56 748.1 L430 695.8 L430 731.1 L91.4 785.6 L56 766 Z" fill="#b7855d"/>
<path d="M56 748.1 L430 695.8 L430 731.1 L91.4 785.6 L56 766 Z" fill="#b7855d" filter="url(#grainHc1)" opacity="0.6"/>
<!-- front edge of top + dark opening -->
<path d="M91.4 785.6 L430 731.1 L430 732.7 L92.5 790 Z" fill="#b17f58"/>
<path d="M96.6 787.7 L312 751.9 L312 757.3 L97 793.4 Z" fill="#2e1c12"/>
<path d="M316 751.3 L430 732.4 L430 736.5 L316 756.1 Z" fill="#2e1c12"/>
<rect x="312" y="751.1" width="4" height="8" fill="#c19670"/>
<!-- open drawer interior -->
<path d="M98.6 794.6 L304.5 760.4 L353.2 775.4 L147.3 813.5 Z" fill="#bb8a62"/>
<path d="M98.6 794.6 L304.5 760.4 L306 772 L150 803 Z" fill="#c99d77"/>
<path d="M304.5 760.4 L353.2 775.4 L349 780 L300 768 Z" fill="#d3a983"/>
<!-- right-hand drawer interior and walls -->
<path d="M318 758 L430 742 L430 764 L377 773 Z" fill="#b98861"/>
<path d="M318 758 L360 773.6 L377 772.6 L330 756.4 Z" fill="#cfa47e"/>
<path d="M353.2 775.4 L362 773.4 L374.9 774.2 L374.9 778 Z" fill="#8a5e40"/>
<!-- open drawer left side -->
<path d="M98.6 794.6 L147.3 813.5 L147.3 862.2 L98.6 841.6 Z" fill="#c4966d"/>
<path d="M98.6 794.6 L147.3 813.5 L147.3 816.5 L98.6 797.8 Z" fill="#d6ad87"/>
<path d="M96.5 815.5 L145.6 839.8 L145.6 847.2 L96.5 822.4 Z" fill="#1f1a17"/>
<path d="M106 822.5 l9 4.4 l-1.4 2.6 l-9-4.4z" fill="#b9b3ab"/>
<!-- open drawer ribbed front -->
<path d="M147.3 813.5 L374.9 774.2 L374.9 819.8 L147.3 862.2 Z" fill="#c0926c"/>
<path d="M147.3 813.5 L374.9 774.2 L374.9 819.8 L147.3 862.2 Z" fill="url(#ribsC1)"/>
<path d="M147.3 813.5 L374.9 774.2 L374.9 776 L147.3 815.4 Z" fill="#d8b08a" opacity="0.8"/>
<path d="M374.9 774.2 L377 773.4 V822 L374.9 819.8 Z" fill="#7a5237"/>
<!-- second drawer ribbed front -->
<path d="M377 773 L430 762.6 L430 812.6 L377 822 Z" fill="#c0926c"/>
<path d="M377 773 L430 762.6 L430 812.6 L377 822 Z" fill="url(#ribsC1)"/>
<!-- handles -->
<path d="M254.6 793.6 L283 789.2 L285.2 791.4 L285.2 793.2 L257.4 797.6 Z" fill="#2a2624"/>
<path d="M198 873.6 L223.6 868.6 L224.2 871.4 L199.6 876.6 Z" fill="#241f1c"/>
<path d="M389.6 829.4 L430 822.6 L430 825.4 L391 832 Z" fill="#241f1c"/>
</g>
<g id="circle-snap" clip-path="url(#clipC2)">
<g transform="translate(788 372) scale(0.20704)">
<rect x="0" y="0" width="1932" height="1932" fill="url(#snapBg)"/>
<!-- light strip right of the post -->
<rect x="1530" y="0" width="40" height="1932" fill="#f3f2f2"/>
<!-- vertical post -->
<rect x="875" y="0" width="660" height="1932" fill="url(#postG)"/>
<rect x="875" y="0" width="660" height="1932" fill="#9a6b49" filter="url(#grainVsnap)" opacity="0.45"/>
<rect x="1500" y="0" width="35" height="1932" fill="#7d5235" opacity="0.35"/>
<!-- shelf shadow on post -->
<path d="M875 860 L1125 1400 L1125 1535 L875 1535 Z" fill="#8d5f3f" opacity="0.55"/>
<!-- slots -->
<path d="M905 600 L925 596 L972 712 L968 750 L955 722 Z" fill="#4d2f1d"/>
<path d="M1213 1170 L1235 1168 L1298 1300 L1294 1338 L1275 1310 Z" fill="#4d2f1d"/>
<!-- white gap between shelf edge and post -->
<path d="M770 640 L876 620 L876 862 Z" fill="#efefef"/>
<!-- shelf top -->
<path d="M0 455 L665 455 L1122 1400 L0 1400 Z" fill="url(#shelfG)"/>
<path d="M0 455 L665 455 L1122 1400 L0 1400 Z" fill="#c08f66" filter="url(#grainHsnap)" opacity="0.3"/>
<!-- shelf front -->
<path d="M0 1400 L1125 1400 L1125 1532 L0 1545 Z" fill="url(#shelfFrontG)"/>
<path d="M0 1400 L1125 1400 L1125 1532 L0 1545 Z" fill="#a06f49" filter="url(#grainHsnap)" opacity="0.45"/>
<path d="M0 1396 L1122 1396 L1125 1408 L0 1408 Z" fill="#d2a57c" opacity="0.7"/>
<!-- green connectors -->
<path d="M752 600 Q760 590 776 594 L812 612 Q822 618 822 632 L822 684 Q820 698 806 694 L786 686 Z" fill="#6cc832"/>
<path d="M776 596 L800 608 L800 660 L780 640 Z" fill="#98e05a" opacity="0.8"/>
<path d="M1036 1180 Q1046 1164 1066 1170 L1108 1190 Q1120 1198 1120 1212 L1120 1272 Q1118 1288 1102 1284 L1078 1274 Z" fill="#6cc832"/>
<path d="M1062 1172 L1092 1186 L1094 1246 L1070 1226 Z" fill="#98e05a" opacity="0.8"/>
</g>
</g>
<g id="circle-handle" clip-path="url(#clipC3)">
<g transform="translate(1542 560) scale(0.20704)">
<rect x="0" y="600" width="1932" height="1332" fill="#b9875f"/>
<rect x="55.0" y="600.0" width="130.3" height="1332.0" fill="url(#rh1)"/>
<rect x="185.0" y="600.0" width="130.3" height="1332.0" fill="url(#rh1)"/>
<rect x="315.0" y="600.0" width="137.3" height="1332.0" fill="url(#rh2)"/>
<rect x="452.0" y="600.0" width="136.3" height="1332.0" fill="url(#rh3)"/>
<rect x="588.0" y="600.0" width="134.3" height="1332.0" fill="url(#rh0)"/>
<rect x="722.0" y="600.0" width="134.3" height="1332.0" fill="url(#rh0)"/>
<rect x="856.0" y="600.0" width="130.3" height="1332.0" fill="url(#rh3)"/>
<rect x="986.0" y="600.0" width="128.3" height="1332.0" fill="url(#rh2)"/>
<rect x="1114.0" y="600.0" width="126.3" height="1332.0" fill="url(#rh1)"/>
<rect x="1240.0" y="600.0" width="126.3" height="1332.0" fill="url(#rh1)"/>
<rect x="1366.0" y="600.0" width="124.3" height="1332.0" fill="url(#rh3)"/>
<rect x="1490.0" y="600.0" width="122.3" height="1332.0" fill="url(#rh3)"/>
<rect x="1612.0" y="600.0" width="120.3" height="1332.0" fill="url(#rh3)"/>
<rect x="1732.0" y="600.0" width="118.3" height="1332.0" fill="url(#rh1)"/>
<rect x="1850.0" y="600.0" width="120.3" height="1332.0" fill="url(#rh1)"/>
<rect x="0" y="600" width="1932" height="1332" fill="#b9875f" filter="url(#grainVc3)" opacity="0.45"/>
<!-- shadow under the top lip -->
<path d="M150 1196 L1932 750 L1932 800 L150 1246 Z" fill="#5d3b22" opacity="0.4"/>
<!-- top face -->
<path d="M0 0 H1932 V660 L140 1112 L0 1150 Z" fill="url(#topC3)"/>
<g transform="rotate(-14.2 966 886)"><rect x="-300" y="-400" width="2600" height="1300" fill="#c08c5e" filter="url(#grainHc3)" opacity="0.55"/></g>
<!-- front lip of the top -->
<path d="M0 1148 L140 1112 L1932 660 L1932 752 L180 1196 L0 1240 Z" fill="#cb9c70"/>
<path d="M0 1148 L1932 660 L1932 670 L0 1158 Z" fill="#dcb189" opacity="0.6"/>
<!-- handle -->
<path d="M664 1078 L1318 910 Q1336 906 1350 916 L1390 946 Q1402 958 1394 974 L1388 986 Q1382 996 1366 1000 L748 1158 Q728 1162 718 1146 L702 1116 Q692 1096 664 1078 Z" fill="#2a2929"/>
<path d="M690 1082 L1322 922 L1372 952 L716 1118 Z" fill="#3a3939"/>
<path d="M716 1124 L1380 958 L1386 972 L728 1140 Z" fill="#171616"/>
</g>
</g>
<g id="circle-legs" clip-path="url(#clipC4)">
<g transform="translate(1600 1252) scale(0.20704)">
<!-- back leg -->
<g fill="none" stroke="#1e1d1d" stroke-linecap="round">
<path d="M540 440 Q545 560 612 640" stroke-width="56"/>
<path d="M730 440 L738 560 Q740 600 716 612" stroke-width="62"/>
</g>
<path d="M588 440 Q592 540 640 610 L640 440 Z" fill="#fff"/>
<rect x="604" y="640" width="68" height="46" rx="10" fill="#141313"/>
<!-- front leg -->
<g fill="none" stroke-linecap="round" stroke-linejoin="round">
<path d="M1010 800 L1073 1461 Q1082 1560 1030 1598" stroke="#1d1c1c" stroke-width="30"/>
<path d="M666 442 L878 1462 Q905 1582 968 1612" stroke="#1f1e1e" stroke-width="76"/>
<path d="M970 442 L984 900 L986 1560" stroke="#1c1b1b" stroke-width="74"/>
<path d="M652 450 L862 1462" stroke="#555" stroke-width="9" opacity="0.75"/>
<path d="M684 450 L894 1450" stroke="#4a4a4a" stroke-width="7" opacity="0.6"/>
<path d="M958 450 L970 900 L972 1500" stroke="#555" stroke-width="9" opacity="0.75"/>
</g>
<path d="M905 1540 Q950 1660 1040 1620 L1060 1560 Q1010 1600 975 1520 Z" fill="#1c1b1b"/>
<rect x="938" y="1626" width="100" height="80" rx="12" fill="#121111"/>
<!-- cabinet -->
<rect x="300" y="100" width="720" height="210" fill="#b8835a"/>
<rect x="176.0" y="100.0" width="210.3" height="200.0" fill="url(#rl2)"/>
<rect x="386.0" y="100.0" width="210.3" height="200.0" fill="url(#rl1)"/>
<rect x="596.0" y="100.0" width="215.3" height="200.0" fill="url(#rl2)"/>
<rect x="811.0" y="100.0" width="196.3" height="200.0" fill="url(#rl1)"/>
<rect x="300" y="100" width="720" height="210" fill="#b8835a" filter="url(#grainVc3)" opacity="0.45"/>
<path d="M176 290 Q280 312 386 290 Q490 312 596 290 Q704 312 811 290 Q910 312 1007 292 L1007 312 L176 312 Z" fill="#4e301c" opacity="0.75"/>
<rect x="1006" y="100" width="16" height="212" fill="#24160e"/>
<rect x="1021" y="100" width="115" height="212" fill="#b27e55"/>
<rect x="1021" y="100" width="115" height="212" fill="#b27e55" filter="url(#grainVc3)" opacity="0.5"/>
<path d="M280 308 L1159 304 L1159 418 L280 440 Z" fill="#a06c44"/>
<path d="M280 308 L1159 304 L1159 418 L280 440 Z" fill="#a06c44" filter="url(#grainHc3)" opacity="0.55"/>
<path d="M280 308 L1159 304 L1159 318 L280 322 Z" fill="#c89a70" opacity="0.7"/>
</g>
</g>
<g id="circle-ribbed" clip-path="url(#clipC5)">
<rect x="0" y="1420" width="380" height="380" fill="#c08e66"/>
<rect x="-12.45" y="1420" width="50.85" height="380" fill="url(#rr1)"/>
<rect x="38.30" y="1420" width="50.85" height="380" fill="url(#rr0)"/>
<rect x="89.05" y="1420" width="50.85" height="380" fill="url(#rr1)"/>
<rect x="139.80" y="1420" width="50.85" height="380" fill="url(#rr3)"/>
<rect x="190.55" y="1420" width="50.85" height="380" fill="url(#rr1)"/>
<rect x="241.30" y="1420" width="50.85" height="380" fill="url(#rr2)"/>
<rect x="292.05" y="1420" width="50.85" height="380" fill="url(#rr0)"/>
<rect x="342.80" y="1420" width="50.85" height="380" fill="url(#rr2)"/>
<rect x="0" y="1420" width="380" height="380" fill="#c08e66" filter="url(#grainVc5)" opacity="0.38"/>
<rect x="0" y="1420" width="380" height="380" fill="#c08e66" filter="url(#grainVc5b)" opacity="0.22"/>
</g>
<g id="connectors" fill="none" stroke="#000" stroke-width="6.8">
<path d="M244 964 V1077.6 H431"/>
<circle cx="441.3" cy="1077.6" r="10.2" stroke-width="7"/>
<path d="M191.6 1432 V1319.2 H553.5"/>
<circle cx="564" cy="1319" r="10.2" stroke-width="7"/>
<path d="M1746 938 V1010.3 H1323.5"/>
<circle cx="1313.4" cy="1010.2" r="10.2" stroke-width="7"/>
<path d="M1619 1454.8 H1561.5"/>
<circle cx="1551.4" cy="1454.9" r="10.2" stroke-width="7"/>
</g>
<g id="rings" fill="none" stroke="#000" stroke-width="6.4">
<circle cx="240.6" cy="785.2" r="177.9"/>
<circle cx="1742.8" cy="757.4" r="177.9"/>
<circle cx="1798.2" cy="1452.4" r="178.1"/>
<circle cx="187.3" cy="1610.3" r="177.8"/>
<circle cx="988.1" cy="572.1" r="178.3" stroke="#E5B14C" stroke-width="7.4"/>
</g>
<g id="labels" opacity="0.999">
<text class="b" y="283" font-size="155"><tspan x="801" textLength="93" lengthAdjust="spacingAndGlyphs">S</tspan><tspan x="889.7" textLength="93.4" lengthAdjust="spacingAndGlyphs">n</tspan><tspan x="981.4" textLength="80.2" lengthAdjust="spacingAndGlyphs">a</tspan><tspan x="1061.4" textLength="95.3" lengthAdjust="spacingAndGlyphs">p</tspan></text>
<circle cx="1168.3" cy="206.7" r="10" fill="none" stroke="#000" stroke-width="2.6"/>
<text class="b" x="1168.3" y="212.3" font-size="15.5" text-anchor="middle">R</text>
<text class="b" x="783.4" y="359.5" font-size="43" textLength="411.5" lengthAdjust="spacingAndGlyphs">No Tool Assembly!</text>
<text class="b" x="33" y="560.3" font-size="37.5" textLength="416" lengthAdjust="spacingAndGlyphs">Full Extension Drawers</text>
<text class="b" x="1535" y="492" font-size="37.5" textLength="415" lengthAdjust="spacingAndGlyphs">Sleek Metal Horizontal</text>
<text class="b" x="1668" y="544.6" font-size="37.5" textLength="150" lengthAdjust="spacingAndGlyphs">Handles</text>
<text class="b" x="1635" y="1186.6" font-size="37.5" textLength="333" lengthAdjust="spacingAndGlyphs">Sturdy Reinforced</text>
<text class="b" x="1704.5" y="1238.3" font-size="37.5" textLength="196" lengthAdjust="spacingAndGlyphs">Metal Legs</text>
<text class="b" x="60.5" y="1861.7" font-size="37.5" textLength="262" lengthAdjust="spacingAndGlyphs">Ribbed Design</text>
<text x="621" y="1882.6" font-size="48.5" textLength="754" lengthAdjust="spacingAndGlyphs">Dimensions: 70" L x 30.5" H x 22" D</text>
</g>
</svg>
</body>
</html>
